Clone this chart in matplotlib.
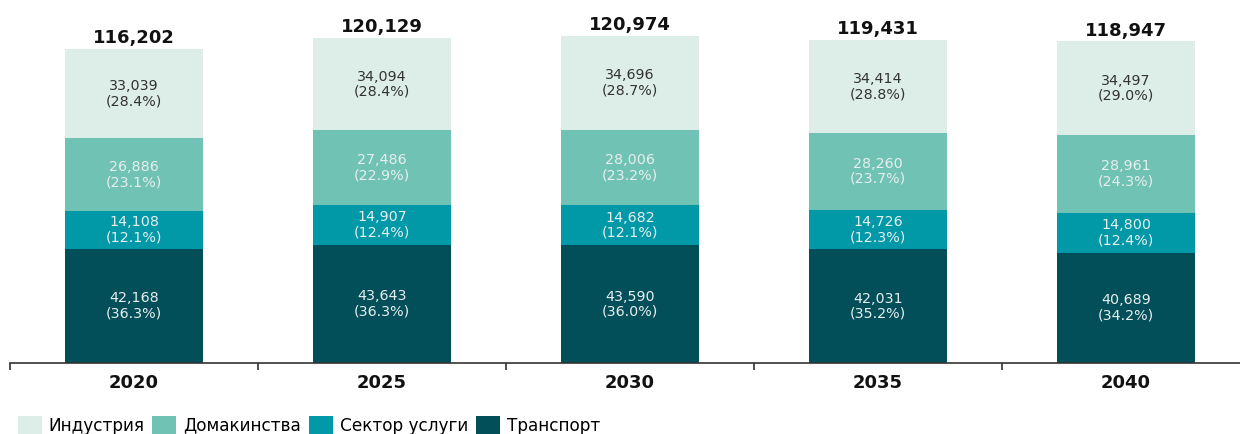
import numpy as np
import matplotlib
matplotlib.use("Agg")
from matplotlib import pyplot as plt
from matplotlib.patches import Patch

years = ["2020", "2025", "2030", "2035", "2040"]
totals = [116202, 120129, 120974, 119431, 118947]

# bottom to top
transport = [42168, 43643, 43590, 42031, 40689]
services = [14108, 14907, 14682, 14726, 14800]
households = [26886, 27486, 28006, 28260, 28961]
industry = [33039, 34094, 34696, 34414, 34497]

transport_pct = [36.3, 36.3, 36.0, 35.2, 34.2]
services_pct = [12.1, 12.4, 12.1, 12.3, 12.4]
households_pct = [23.1, 22.9, 23.2, 23.7, 24.3]
industry_pct = [28.4, 28.4, 28.7, 28.8, 29.0]

names = ["Транспорт", "Сектор услуги", "Домакинства", "Индустрия"]
colors = ["#034f59", "#0199a8", "#70c2b4", "#ddeee9"]
textcolors = ["#e6eeee", "#e6eeee", "#e6eeee", "#333333"]

series = [transport, services, households, industry]
pcts = [transport_pct, services_pct, households_pct, industry_pct]

plt.rcParams['font.family'] = ['DejaVu Sans']

fig = plt.figure(figsize=(12.4, 4.34), dpi=100)
ax = fig.add_axes([10 / 1240, 71 / 434, 1.0, 363 / 434])

x = np.arange(len(years))
bottom = np.zeros(len(years))
for vals, pc, col, tc in zip(series, pcts, colors, textcolors):
    vals = np.array(vals, dtype=float)
    ax.bar(x, vals, bottom=bottom, width=0.553, color=col, linewidth=0)
    for xi, b, v, p in zip(x, bottom, vals, pc):
        ax.text(xi, b + v / 2, "{:,}\n({:.1f}%)".format(int(v), p),
                ha="center", va="center", color=tc, fontsize=10.3,
                linespacing=1.1)
    bottom += vals

for xi, t, b in zip(x, totals, bottom):
    ax.text(xi, b + 700, "{:,}".format(t), ha="center", va="bottom",
            fontsize=13, fontweight="bold", color="#111111")

ax.set_xlim(-0.5, 4.5)
ax.set_ylim(0, 134300)
for s in ["top", "right", "left"]:
    ax.spines[s].set_visible(False)
ax.spines["bottom"].set_color("#333333")
ax.spines["bottom"].set_linewidth(1.2)
ax.set_yticks([])
ax.set_xticks(x)
ax.set_xticklabels(years, fontsize=13, fontweight="bold", color="#111111")
ax.tick_params(axis="x", which="major", length=0, pad=8)
ax.set_xticks(np.arange(-0.5, 5, 1.0), minor=True)
ax.tick_params(axis="x", which="minor", length=5, width=1.2, color="#333333")

handles = [Patch(facecolor=c, edgecolor="none") for c in colors[::-1]]
fig.legend(handles, names[::-1], loc="lower left", bbox_to_anchor=(0.006, -0.025),
           ncol=4, frameon=False, fontsize=12.2, handlelength=1.43, handleheight=1.2,
           handletextpad=0.4, columnspacing=0.45, borderaxespad=0.2)

fig.savefig("out.png", dpi=100)
